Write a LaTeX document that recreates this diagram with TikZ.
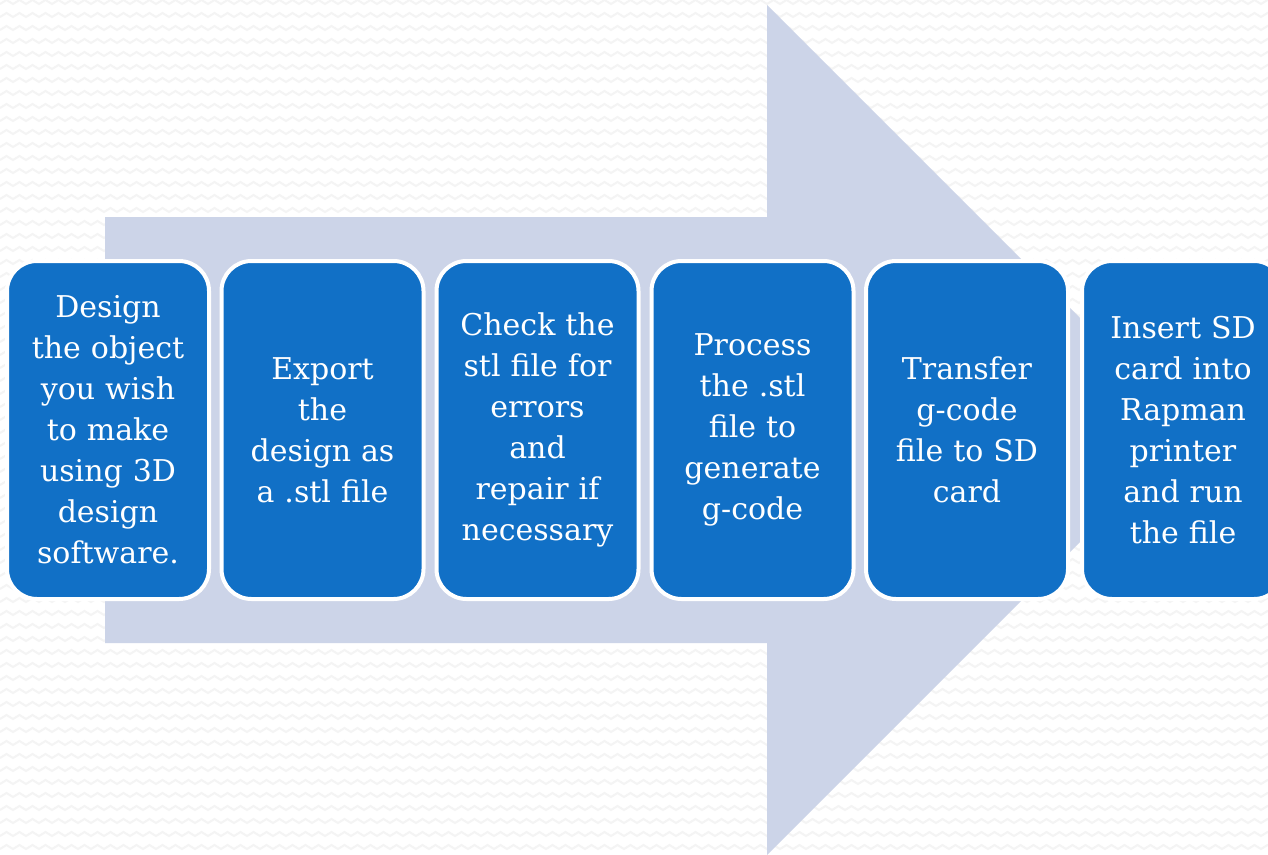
\documentclass[tikz,border=0pt]{standalone}
\usepackage{fontspec}
\setmainfont{DejaVu Serif}
\definecolor{stepblue}{HTML}{1170C6}
\definecolor{arrowfill}{HTML}{CCD4E8}
\definecolor{zig}{HTML}{F4F4F4}
\tikzset{
  stepbox/.style={draw=white, line width=4pt, fill=stepblue, rounded corners=30pt,
    minimum width=202pt, minimum height=338pt, text width=196pt, align=center,
    text=white, inner sep=0pt, font=\fontsize{30}{41}\selectfont},
  zigline/.style={draw=zig, line width=2pt}
}
\begin{document}
\begin{tikzpicture}[x=1pt,y=-1pt]
  \useasboundingbox (0,0) rectangle (1268,854);
  \clip (0,0) rectangle (1268,854);
  % patterned background
  \fill[white] (0,0) rectangle (1268,854);
  \foreach \r in {0,...,66}{
    \draw[zigline] (0,{\r*13+4})
      \foreach \k in {0,...,98}{ -- ({\k*13+6.5},{\r*13}) -- ({\k*13+13},{\r*13+4}) };
  }
  % large process arrow
  \fill[arrowfill] (105,217) -- (767,217) -- (767,5) -- (1192,430) -- (767,855)
    -- (767,643) -- (105,643) -- cycle;
  % step boxes
  \node[stepbox] (s1) at (108,430) {Design\\the object\\you wish\\to make\\using 3D\\design\\software.};
  \node[stepbox] (s2) at (322.5,430) {Export\\the\\design as\\a .stl file};
  \node[stepbox] (s3) at (537.5,430) {Check the\\stl file for\\errors\\and\\repair if\\necessary};
  \node[stepbox] (s4) at (752.5,430) {Process\\the .stl\\file to\\generate\\g-code};
  \node[stepbox] (s5) at (967,430) {Transfer\\g-code\\file to SD\\card};
  \node[stepbox] (s6) at (1183,430) {Insert SD\\card into\\Rapman\\printer\\and run\\the file};
\end{tikzpicture}
\end{document}
